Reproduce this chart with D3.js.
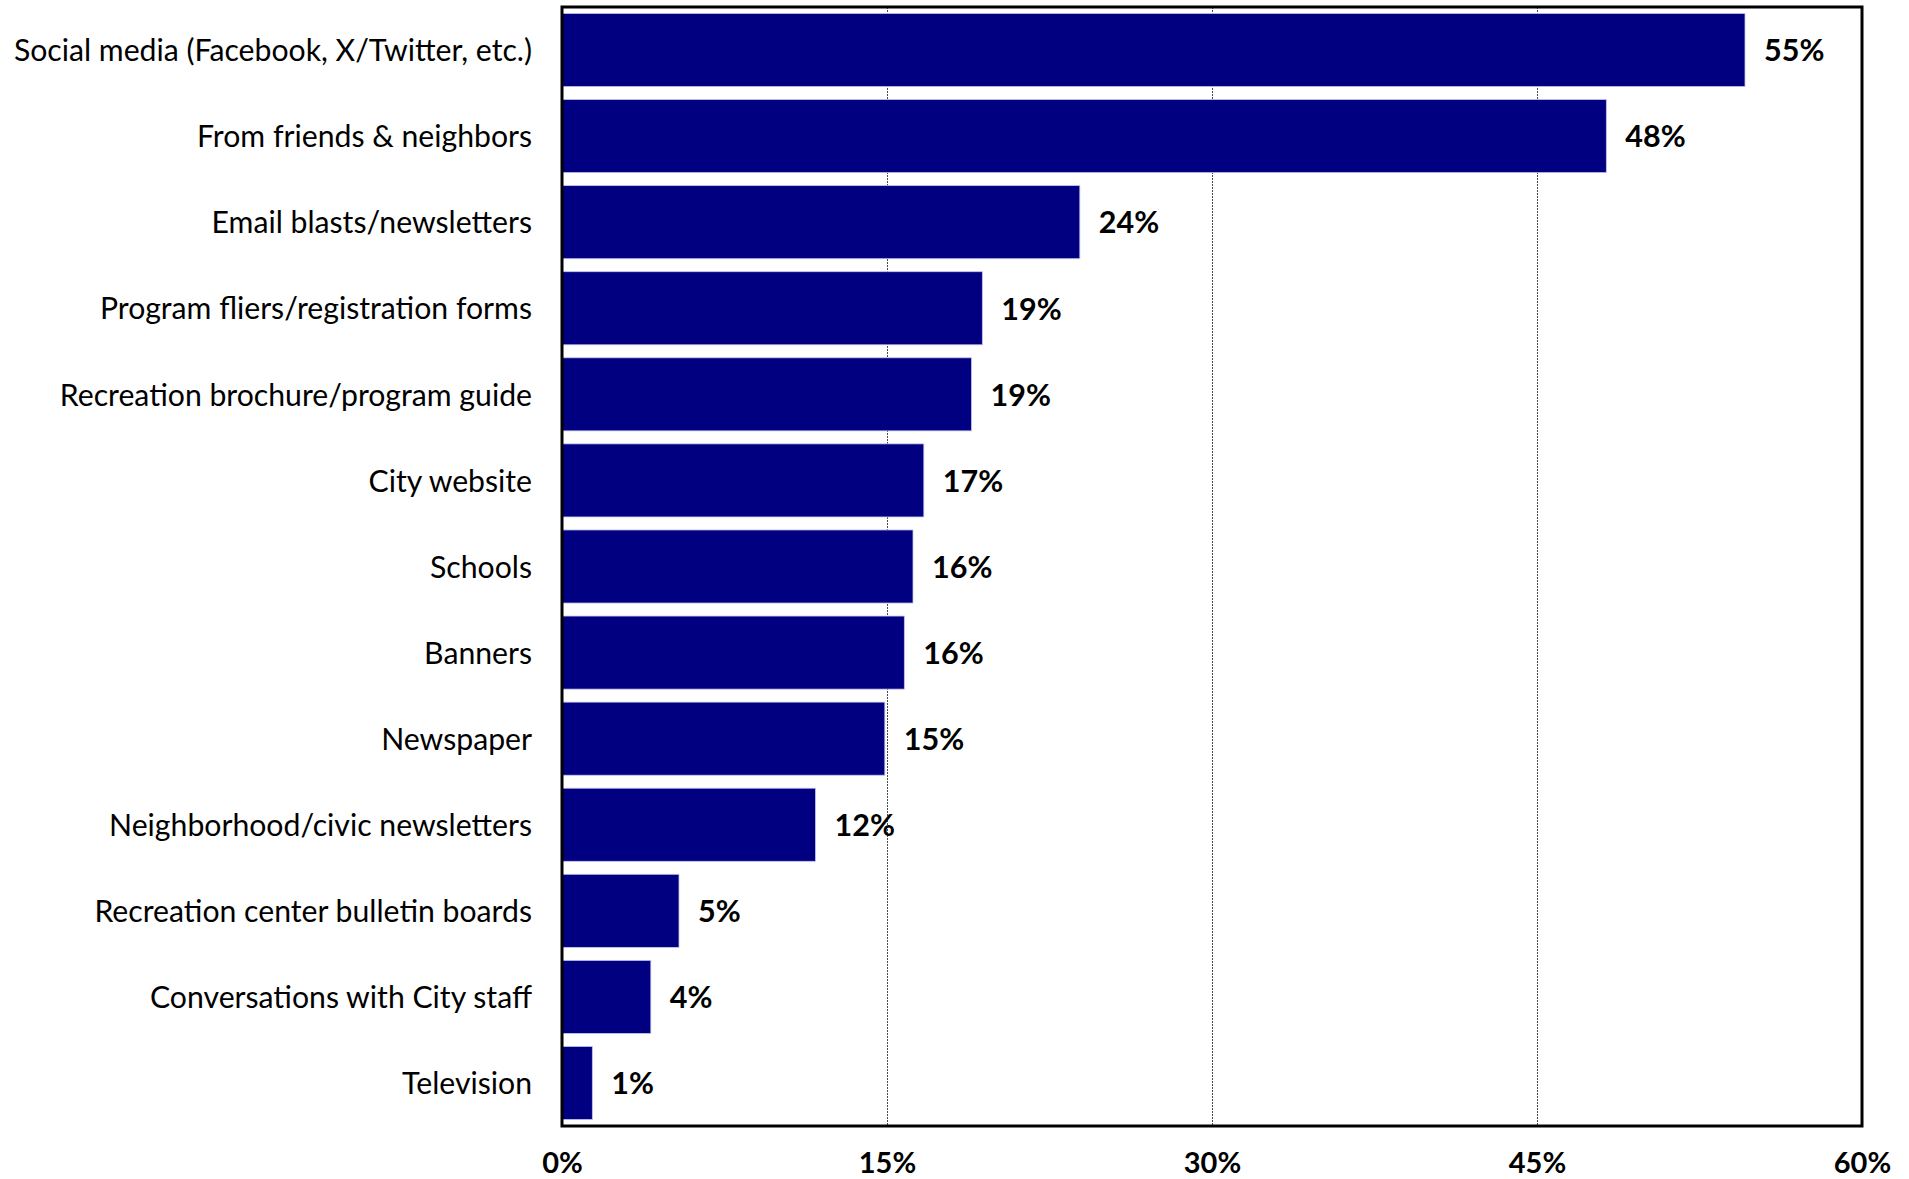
<!DOCTYPE html>
<html>
<head>
<meta charset="utf-8">
<script src="https://cdn.jsdelivr.net/npm/d3@7"></script>
<style>
  html, body { margin: 0; padding: 0; background: #ffffff; }
  svg { display: block; }
</style>
</head>
<body>
<svg id="chart" width="1909" height="1179"></svg>
<script>
// How residents hear about programs (share of respondents, %)
const categories = [
  "Social media (Facebook, X/Twitter, etc.)",
  "From friends & neighbors",
  "Email blasts/newsletters",
  "Program fliers/registration forms",
  "Recreation brochure/program guide",
  "City website",
  "Schools",
  "Banners",
  "Newspaper",
  "Neighborhood/civic newsletters",
  "Recreation center bulletin boards",
  "Conversations with City staff",
  "Television"
];
const values = [54.6, 48.2, 23.9, 19.4, 18.9, 16.7, 16.2, 15.8, 14.9, 11.7, 5.4, 4.1, 1.4];
const xTicks = [0, 15, 30, 45, 60];

const plot = { left: 562, right: 1862, top: 7, bottom: 1126 };
const barColor = "#000080";
const fontFamily = "Lato, 'Open Sans', 'Noto Sans', sans-serif";

const svg = d3.select("#chart");

const x = d3.scaleLinear().domain([0, 60]).range([plot.left, plot.right]);
const y = d3.scaleBand().domain(categories).range([plot.top, plot.bottom])
  .paddingInner(0.151).paddingOuter(0.075);

const data = categories.map((c, i) => ({ cat: c, value: values[i] }));

// vertical gridlines
svg.append("g")
  .selectAll("line")
  .data(xTicks.filter(t => t > 0 && t < 60))
  .join("line")
  .attr("x1", d => x(d) + 0.5).attr("x2", d => x(d) + 0.5)
  .attr("y1", plot.top).attr("y2", plot.bottom)
  .attr("stroke", "#4a4a4a")
  .attr("stroke-width", 1)
  .attr("stroke-dasharray", "2,1");

// bars
svg.append("g")
  .selectAll("rect")
  .data(data)
  .join("rect")
  .attr("x", x(0))
  .attr("y", d => y(d.cat))
  .attr("width", d => x(d.value) - x(0))
  .attr("height", y.bandwidth())
  .attr("fill", barColor)
  .attr("stroke", "#c4c4ec")
  .attr("stroke-width", 0.8);

// value labels
svg.append("g")
  .selectAll("text")
  .data(data)
  .join("text")
  .attr("x", d => x(d.value) + 19)
  .attr("y", d => y(d.cat) + y.bandwidth() / 2)
  .attr("dy", "0.37em")
  .attr("font-family", fontFamily)
  .attr("font-weight", "bold")
  .attr("font-size", 30.5)
  .attr("fill", "#000")
  .text(d => Math.round(d.value) + "%");

// plot frame
svg.append("rect")
  .attr("x", plot.left).attr("y", plot.top)
  .attr("width", plot.right - plot.left).attr("height", plot.bottom - plot.top)
  .attr("fill", "none")
  .attr("stroke", "#000")
  .attr("stroke-width", 3);

// category axis
const yAxis = d3.axisLeft(y).tickSize(0).tickPadding(30);
const gy = svg.append("g").attr("transform", `translate(${plot.left},0)`).call(yAxis);
gy.select(".domain").remove();
gy.selectAll("text")
  .attr("dy", "0.37em")
  .attr("font-family", fontFamily)
  .attr("font-size", 30.2)
  .attr("fill", "#000");

// value axis
const xAxis = d3.axisBottom(x).tickValues(xTicks).tickSize(0).tickPadding(26)
  .tickFormat(d => d + "%");
const gx = svg.append("g").attr("transform", `translate(0,${plot.bottom})`).call(xAxis);
gx.select(".domain").remove();
gx.selectAll("text")
  .attr("font-family", fontFamily)
  .attr("font-weight", "bold")
  .attr("font-size", 29)
  .attr("fill", "#000");
</script>
</body>
</html>
